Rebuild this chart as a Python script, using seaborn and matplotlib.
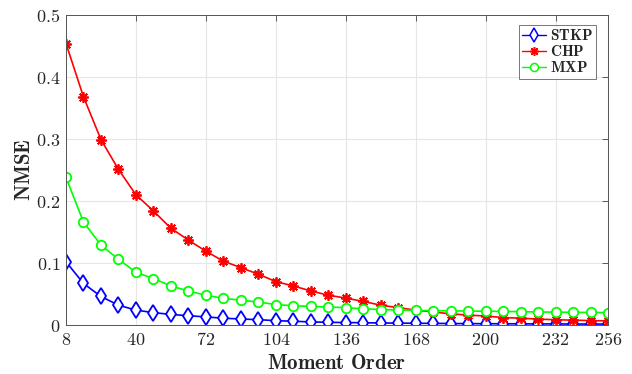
import numpy as np
import pandas as pd
import matplotlib
matplotlib.use("Agg")
import matplotlib.pyplot as plt
import seaborn as sns
from matplotlib.ticker import FuncFormatter
from matplotlib.lines import Line2D

orders = list(range(8, 257, 8))
stkp = [0.102, 0.067, 0.046, 0.032, 0.024, 0.020, 0.017, 0.015, 0.013, 0.011,
        0.0097, 0.0086, 0.007, 0.006, 0.005, 0.0043, 0.004, 0.0036, 0.0033, 0.003,
        0.0028, 0.0026, 0.0024, 0.0022, 0.0021, 0.002, 0.0019, 0.0018, 0.0017, 0.0016,
        0.0015, 0.0015]
chp = [0.454, 0.368, 0.299, 0.251, 0.210, 0.184, 0.156, 0.137, 0.119, 0.103,
       0.0925, 0.082, 0.070, 0.063, 0.055, 0.048, 0.0435, 0.038, 0.032, 0.028,
       0.024, 0.021, 0.018, 0.016, 0.0145, 0.012, 0.011, 0.0095, 0.0085, 0.0078,
       0.0072, 0.0066]
mxp = [0.238, 0.166, 0.129, 0.106, 0.085, 0.075, 0.063, 0.055, 0.048, 0.043,
       0.040, 0.037, 0.033, 0.031, 0.030, 0.029, 0.028, 0.026, 0.025, 0.024,
       0.0237, 0.023, 0.0228, 0.0225, 0.0222, 0.022, 0.0215, 0.021, 0.0207, 0.0205,
       0.0202, 0.020]
methods = ["STKP", "CHP", "MXP"]
xticks = [8, 40, 72, 104, 136, 168, 200, 232, 256]
yticks = [0, 0.1, 0.2, 0.3, 0.4, 0.5]

series = {"STKP": stkp, "CHP": chp, "MXP": mxp}

sns.set_style("white")
plt.rcParams["mathtext.fontset"] = "cm"
plt.rcParams["font.family"] = ["DejaVu Serif"]

fig = plt.figure(figsize=(6.32, 3.74), dpi=100)
ax = fig.add_axes([66/632, 1-325/374, (608-66)/632, (325-15)/374])

palette = {"STKP": "#0000ff", "CHP": "#ff0000", "MXP": "#00ff00"}
markers = {"STKP": "d", "CHP": (8, 2, 0), "MXP": "o"}
msizes = {"STKP": 8, "CHP": 7.5, "MXP": 6.8}

for m in methods:
    d = pd.DataFrame({"order": orders, "nmse": series[m]})
    sns.lineplot(data=d, x="order", y="nmse", ax=ax, color=palette[m],
                 marker=markers[m], markersize=msizes[m],
                 markerfacecolor="white", markeredgecolor=palette[m],
                 markeredgewidth=1.3, linewidth=1.2, legend=False)

ax.set_xlim(8, 256)
ax.set_ylim(0, 0.5)
ax.set_xticks(xticks)
ax.set_yticks(yticks)
ax.xaxis.set_major_formatter(FuncFormatter(lambda v, p: r"$%d$" % v))
ax.yaxis.set_major_formatter(FuncFormatter(lambda v, p: r"$%g$" % v))
ax.tick_params(axis="both", which="both", direction="in", length=4, width=0.6,
               color="#444444", labelsize=13, top=True, right=True, pad=4,
               labelcolor="#262626")
ax.grid(True, color="#e6e6e6", linewidth=0.8)
ax.set_axisbelow(True)
for s in ax.spines.values():
    s.set_color("#555555")
    s.set_linewidth(0.7)

ax.set_xlabel(r"$\mathbf{Moment\ Order}$", fontsize=15, color="#262626", labelpad=4)
ax.set_ylabel(r"$\mathbf{NMSE}$", fontsize=15, color="#262626", labelpad=1)

handles = [Line2D([], [], color=palette[m], marker=markers[m], markersize=msizes[m] * 0.85,
                  markerfacecolor="white", markeredgecolor=palette[m],
                  markeredgewidth=1.1, linewidth=1.0) for m in methods]
labels = [r"$\mathbf{%s}$" % m for m in methods]
leg = ax.legend(handles, labels, loc="upper right", fontsize=11, frameon=True,
                fancybox=False, edgecolor="#555555", handlelength=1.6,
                handletextpad=0.25, labelspacing=0.08, borderpad=0.2,
                borderaxespad=0, bbox_to_anchor=(1 - 12/542, 1 - 10/310))
leg.get_frame().set_linewidth(0.7)

fig.savefig("out.png", dpi=100)
